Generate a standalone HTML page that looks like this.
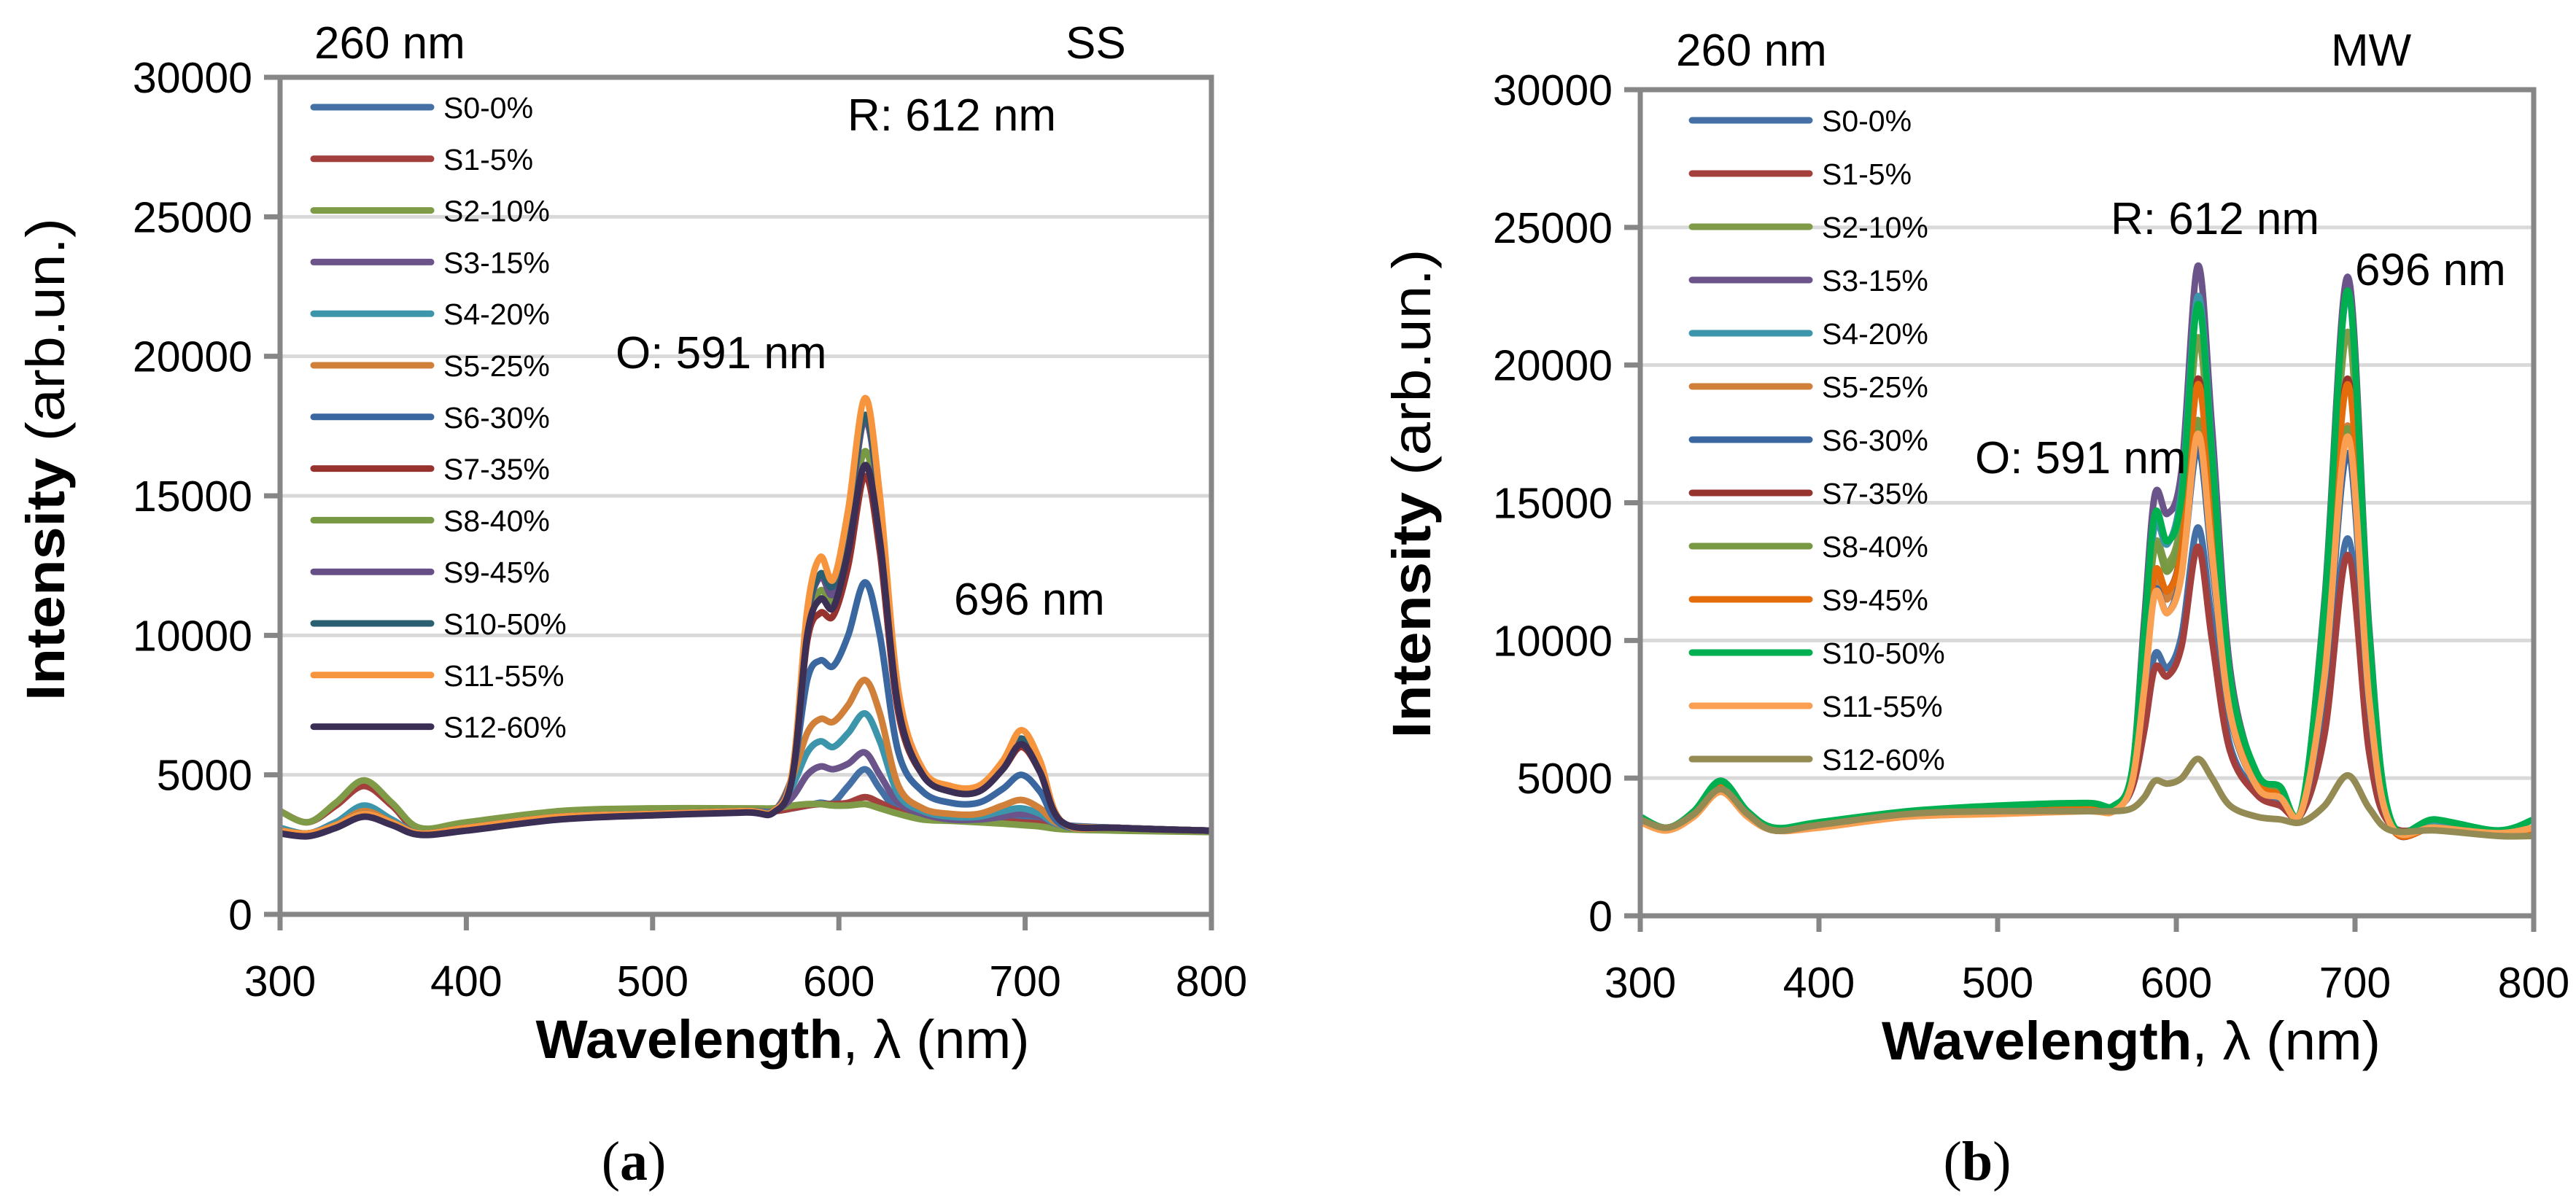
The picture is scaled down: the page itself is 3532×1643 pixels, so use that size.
<!DOCTYPE html>
<html><head><meta charset="utf-8"><style>
html,body{margin:0;padding:0;background:#fff;}
svg{display:block;font-family:"Liberation Sans",sans-serif;}
</style></head>
<body>
<svg id="fig" width="3532" height="1643" viewBox="0 0 3532 1643" xmlns="http://www.w3.org/2000/svg">
<rect width="3532" height="1643" fill="#fff"/>
<g id="chartA"></g>
<g id="chartB"></g>
</svg>
<script>
// ---------- data ----------
const xTicks = [300,400,500,600,700,800];
const yTicks = [0,5000,10000,15000,20000,25000,30000];
const seriesNames = ["S0-0%","S1-5%","S2-10%","S3-15%","S4-20%","S5-25%","S6-30%","S7-35%","S8-40%","S9-45%","S10-50%","S11-55%","S12-60%"];
const colorsSS = ["#4470A6","#A3403D","#7F9B48","#6A5489","#3C95AB","#D1803A","#3A67A0","#96332F","#789943","#654F86","#2A5F72","#F7953F","#3B2F55"];
const colorsMW = ["#4470A6","#A3403D","#7F9B48","#6A5489","#3C95AB","#D1803A","#3A67A0","#96332F","#789943","#E46C0A","#00B050","#FAA052","#948A54"];

const wlSS = [300,315,330,345,360,375,400,450,500,550,565,575,583,590,597,605,614,622,632,645,660,675,688,698,708,720,750,800];
const ss0  = [3100,2900,3300,3700,3300,2900,3100,3500,3600,3700,3700,3800,3900,4000,4000,4600,5200,4500,3700,3500,3400,3400,3500,3500,3400,3200,3100,3000];
const ss1  = [3700,3300,3900,4600,3900,3000,3200,3600,3700,3700,3700,3800,3900,3950,3950,4000,4200,4000,3700,3500,3400,3400,3350,3300,3250,3100,3050,2950];
const ss2  = [3700,3300,4000,4800,4000,3100,3300,3700,3800,3800,3800,3900,3950,3950,3900,3900,3950,3800,3600,3400,3350,3300,3250,3200,3150,3050,3000,2950];
const ss3  = [3000,2900,3200,3600,3300,2900,3100,3500,3600,3700,3700,4200,5000,5300,5200,5400,5800,5000,4000,3600,3400,3400,3500,3600,3500,3200,3100,3000];
const ss4  = [3100,2900,3300,3900,3400,2900,3100,3500,3600,3700,3700,4600,5800,6200,6000,6500,7200,6200,4300,3700,3500,3500,3700,3800,3600,3200,3100,3000];
const ss5  = [3000,2900,3200,3700,3300,2900,3100,3500,3600,3700,3700,4900,6500,7000,6900,7500,8400,7200,4600,3800,3600,3600,3900,4100,3800,3200,3100,3000];
const ss6  = [3000,2900,3200,3600,3300,2900,3100,3500,3600,3700,3700,5000,8400,9100,8900,10000,11900,10000,5800,4400,4000,4000,4500,5000,4400,3200,3100,3000];
const ss7  = [3000,2900,3200,3600,3300,2900,3100,3500,3600,3700,3700,5000,9800,10800,10700,12500,15700,13000,7200,5000,4400,4400,5200,6000,5100,3300,3100,3000];
const ss8  = [3000,2900,3200,3600,3300,2900,3100,3500,3600,3700,3700,5000,10300,11600,11300,13500,16600,13800,7600,5100,4500,4500,5300,6200,5200,3300,3100,3000];
const ss9  = [3000,2900,3200,3600,3300,2900,3100,3500,3600,3700,3700,5000,10500,12100,11500,14000,17700,14500,7800,5100,4500,4500,5400,6300,5300,3300,3100,3000];
const ss10 = [3000,2900,3200,3600,3300,2900,3100,3500,3600,3700,3700,5000,10600,12200,11800,14300,17900,14700,7900,5200,4500,4500,5400,6300,5300,3300,3100,3000];
const ss11 = [3000,2900,3200,3600,3300,2900,3100,3500,3600,3700,3700,5100,10900,12800,12000,14500,18500,15000,8000,5200,4600,4600,5500,6600,5500,3300,3100,3000];
const ss12 = [2900,2800,3100,3500,3200,2850,3000,3400,3550,3650,3650,4900,10000,11300,11000,13000,16100,13400,7400,5000,4400,4400,5200,6100,5100,3300,3100,3000];

const wlMW = [300,315,330,345,360,375,400,450,500,550,565,575,582,588,595,603,612,620,630,645,658,670,683,696,708,720,745,780,800];
const mw0  = [3500,3200,3700,4900,3700,3100,3300,3700,3800,3900,3900,4600,7000,9500,9000,10200,14100,10600,6200,4500,4100,3700,6800,13700,6200,3300,3200,3000,3100];
const mw1  = [3500,3200,3700,4800,3700,3100,3300,3700,3800,3900,3900,4600,6700,9000,8700,9800,13400,10000,6000,4400,4000,3700,6600,13100,5900,3300,3200,3000,3100];
const mw2  = [3500,3200,3700,4700,3700,3100,3300,3700,3800,3900,3900,5000,9500,13500,12800,14500,21000,15700,8200,5000,4500,3800,10500,21200,9500,3400,3300,3000,3200];
const mw3  = [3500,3200,3700,4900,3700,3100,3300,3700,3800,3900,3900,5100,10700,15300,14600,16200,23600,17700,9000,5100,4600,3800,11500,23200,10400,3400,3300,3000,3200];
const mw4  = [3500,3200,3700,4900,3700,3100,3300,3700,3900,4000,4000,5100,10100,14200,13500,15500,22500,16900,8700,5100,4600,3800,11300,22600,10200,3400,3300,3000,3200];
const mw5  = [3500,3200,3700,4700,3700,3100,3300,3700,3800,3900,3900,4900,8600,12200,11500,13000,18000,13500,7500,4800,4400,3800,8900,17800,8000,3300,3200,3000,3100];
const mw6  = [3500,3200,3700,4800,3700,3100,3300,3700,3800,3900,3900,4900,8300,11800,11000,12500,17000,12800,7300,4700,4300,3800,8400,16800,7600,3300,3200,3000,3100];
const mw7  = [3500,3200,3700,4700,3700,3100,3300,3700,3800,3900,3900,4900,8800,12500,11800,13400,19500,14600,7800,4900,4400,3800,9800,19500,8800,3300,3200,3000,3100];
const mw8  = [3500,3200,3700,4800,3700,3100,3300,3700,3800,3900,3900,5000,9400,13400,12500,14000,18000,13500,7600,4900,4500,3800,8900,17700,8000,3300,3200,3000,3100];
const mw9  = [3500,3200,3700,4700,3700,3100,3300,3700,3800,3900,3900,4900,8800,12500,11800,13300,19300,14500,7800,4900,4400,3800,9700,19300,8700,3300,3200,3000,3100];
const mw10 = [3600,3200,3800,4900,3800,3200,3400,3800,4000,4100,4000,5200,10300,14600,13600,15200,22200,16700,8700,5200,4700,3900,11300,22700,10200,3500,3500,3100,3500];
const mw11 = [3400,3100,3600,4500,3600,3100,3200,3600,3700,3800,3800,4800,8200,11700,11000,12400,17500,13100,7400,4700,4300,3800,8700,17400,7800,3300,3200,3000,3200];
const mw12 = [3500,3200,3700,4600,3700,3100,3300,3700,3800,3800,3800,3900,4300,4900,4800,5000,5700,5000,4000,3600,3500,3400,4000,5100,3900,3100,3100,2900,2900];

const seriesSS = [ss0,ss1,ss2,ss3,ss4,ss5,ss6,ss7,ss8,ss9,ss10,ss11,ss12];
const seriesMW = [mw0,mw1,mw2,mw3,mw4,mw5,mw6,mw7,mw8,mw9,mw10,mw11,mw12];

// ---------- drawing ----------
const NS = "http://www.w3.org/2000/svg";
function mk(parent, tag, attrs, text){
  const e = document.createElementNS(NS, tag);
  for (const k in attrs) e.setAttribute(k, attrs[k]);
  if (text !== undefined) e.textContent = text;
  parent.appendChild(e);
  return e;
}
function smoothPath(pts){
  let d = "M" + pts[0][0].toFixed(1) + "," + pts[0][1].toFixed(1);
  for (let i = 0; i < pts.length - 1; i++){
    const p0 = pts[i-1] || pts[i], p1 = pts[i], p2 = pts[i+1], p3 = pts[i+2] || p2;
    const c1x = p1[0] + (p2[0]-p0[0])/6, c1y = p1[1] + (p2[1]-p0[1])/6;
    const c2x = p2[0] - (p3[0]-p1[0])/6, c2y = p2[1] - (p3[1]-p1[1])/6;
    d += " C" + c1x.toFixed(1)+","+c1y.toFixed(1)+" "+c2x.toFixed(1)+","+c2y.toFixed(1)+" "+p2[0].toFixed(1)+","+p2[1].toFixed(1);
  }
  return d;
}

function drawChart(g, cfg){
  const xs = v => cfg.left + (v - 300) / 500 * (cfg.right - cfg.left);
  const ys = v => cfg.bottom - v / 30000 * (cfg.bottom - cfg.top);
  yTicks.forEach(t => {
    if (t === 0 || t === 30000) return;
    const l = mk(g, "line", {x1: cfg.left, x2: cfg.right, y1: ys(t), y2: ys(t), stroke: "#D9D9D9", "stroke-width": 5});
    
    
  });
  cfg.series.forEach((s, i) => {
    const pts = s.map((v, j) => [xs(cfg.wl[j]), ys(v)]);
    const p = mk(g, "path", {d: smoothPath(pts), fill: "none", stroke: cfg.colors[i], "stroke-width": 9, "stroke-linejoin": "round"});
    
    
  });
  const fr = mk(g, "rect", {x: cfg.left, y: cfg.top, width: cfg.right - cfg.left, height: cfg.bottom - cfg.top, fill: "none", stroke: "#868686", "stroke-width": 7});
  
  
  yTicks.forEach(t => {
    const tk = mk(g, "line", {x1: cfg.left - 22, x2: cfg.left, y1: ys(t), y2: ys(t), stroke: "#868686", "stroke-width": 7});
    
    
    const lb = mk(g, "text", {x: cfg.left - 38, y: ys(t) + 21, "text-anchor": "end", "font-size": 59, fill: "#000"}, String(t));
    
    
  });
  xTicks.forEach(t => {
    const tk = mk(g, "line", {x1: xs(t), x2: xs(t), y1: cfg.bottom, y2: cfg.bottom + 22, stroke: "#868686", "stroke-width": 7});
    
    
    const lb = mk(g, "text", {x: xs(t), y: cfg.bottom + 112, "text-anchor": "middle", "font-size": 59, fill: "#000"}, String(t));
    
    
  });
  seriesNames.forEach((n, i) => {
    const y = cfg.legY + i * cfg.legDy;
    const ln = mk(g, "line", {x1: cfg.legX1, x2: cfg.legX2, y1: y, y2: y, stroke: cfg.colors[i], "stroke-width": 9, "stroke-linecap": "round"});
    
    
    const tx = mk(g, "text", {x: cfg.legX2 + 17, y: y + 15, "font-size": 41, fill: "#000"}, n);
    
    
  });
}

const gA = document.getElementById("chartA");
drawChart(gA, {left: 384, right: 1661, top: 106, bottom: 1254, wl: wlSS, series: seriesSS, colors: colorsSS,
  legX1: 430, legX2: 591, legY: 147, legDy: 70.8});
const gB = document.getElementById("chartB");
drawChart(gB, {left: 2249, right: 3474, top: 123, bottom: 1256, wl: wlMW, series: seriesMW, colors: colorsMW,
  legX1: 2320, legX2: 2481, legY: 165, legDy: 73});

function ann(g, x, y, txt, name, size){
  const t = mk(g, "text", {x: x, y: y, "font-size": size || 62, fill: "#000"}, txt);
  
  
  return t;
}
ann(gA, 431, 80, "260 nm", "excitation-label");
ann(gA, 1461, 80, "SS", "method-label");
ann(gA, 1162, 179, "R: 612 nm", "peak-label-612");
ann(gA, 844, 505, "O: 591 nm", "peak-label-591");
ann(gA, 1308, 843, "696 nm", "peak-label-696");
ann(gB, 2298, 90, "260 nm", "excitation-label");
ann(gB, 3196, 90, "MW", "method-label");
ann(gB, 2894, 321, "R: 612 nm", "peak-label-612");
ann(gB, 3229, 391, "696 nm", "peak-label-696");
ann(gB, 2708, 649, "O: 591 nm", "peak-label-591");

function titles(g, yx, yc, ylen, xc, xy, xlen, panel, px){
  const yt = mk(g, "text", {x: 0, y: 0, transform: "translate(" + yx + "," + yc + ") rotate(-90)", "text-anchor": "middle", "font-size": 74, fill: "#000", textLength: ylen, lengthAdjust: "spacingAndGlyphs"});
  
  
  mk(yt, "tspan", {"font-weight": "bold"}, "Intensity");
  mk(yt, "tspan", {}, " (arb.un.)");
  const xt = mk(g, "text", {x: xc, y: xy, "text-anchor": "middle", "font-size": 74, fill: "#000", textLength: xlen, lengthAdjust: "spacingAndGlyphs"});
  
  
  mk(xt, "tspan", {"font-weight": "bold"}, "Wavelength");
  mk(xt, "tspan", {}, ", λ (nm)");
  const pl = mk(g, "text", {x: px, y: 1618, "text-anchor": "middle", "font-size": 76, fill: "#000", "font-family": "Liberation Serif, serif"});
  
  
  mk(pl, "tspan", {}, "(");
  mk(pl, "tspan", {"font-weight": "bold"}, panel);
  mk(pl, "tspan", {}, ")");
}
titles(gA, 88, 630, 662, 1073, 1451, 677, "a", 869);
titles(gB, 1961, 677, 671, 2922, 1453, 684, "b", 2711);
</script>
</body></html>
